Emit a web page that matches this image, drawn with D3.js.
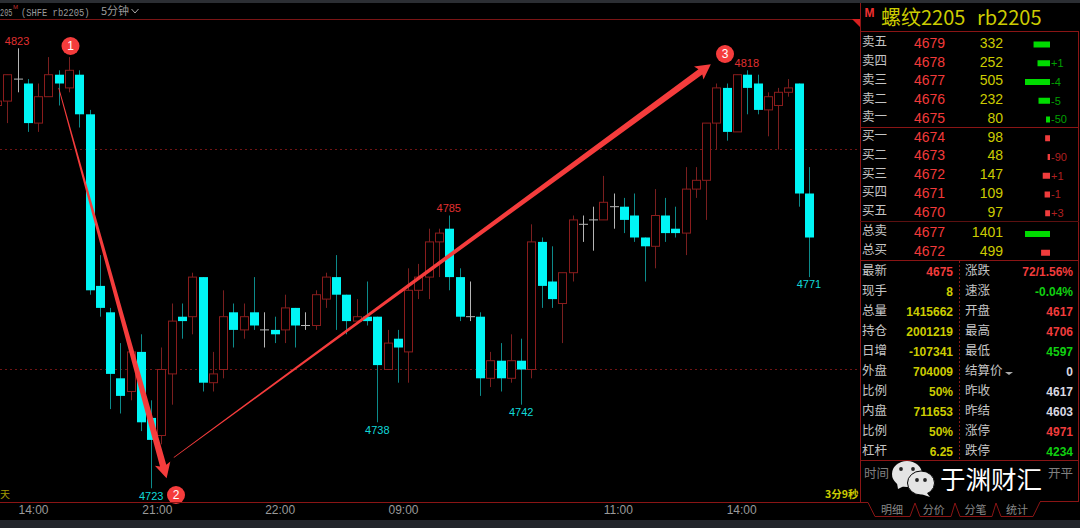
<!DOCTYPE html>
<html><head><meta charset="utf-8">
<script src="https://cdn.jsdelivr.net/npm/d3@7/dist/d3.min.js"></script>
<style>html,body{margin:0;padding:0;background:#000;overflow:hidden}svg{display:block}</style>
</head><body><svg id="c" width="1080" height="528"></svg>
<script>
// candle values: [open, high, low, close], first candle index -1
const opens  = [4810,4811,4816,4815,4806,4812,4817,4814,4817,4808,4769,4763,4748,4745,4754,4739,4735,4749,4762,4762,4771,4747,4750,4763,4759,4763,4759,4759,4759,4764,4760,4760,4766,4771,4767,4761,4762,4762,4750,4757,4754,4768,4771,4779,4782,4771,4762,4762,4748,4752,4748,4752,4750,4779,4770,4765,4772,4783,4784,4784,4787,4787,4785,4780,4778,4785,4782,4781,4791,4793,4806,4814,4804,4817,4815,4809,4810,4813,4815,4790];
const highs  = [4812,4817,4823,4816,4815,4821,4818,4821,4818,4809,4776,4764,4756,4754,4758,4743,4755,4765,4765,4772,4771,4754,4768,4765,4765,4771,4763,4762,4767,4764,4763,4768,4772,4776,4767,4766,4770,4762,4759,4759,4773,4774,4782,4782,4785,4773,4770,4763,4754,4756,4758,4757,4783,4780,4778,4772,4785,4785,4787,4794,4790,4789,4790,4780,4791,4789,4787,4796,4796,4806,4815,4815,4817,4818,4817,4813,4814,4816,4815,4796];
const lows   = [4808,4806,4813,4804,4804,4812,4810,4813,4805,4767,4762,4741,4740,4743,4736,4723,4733,4742,4757,4758,4745,4745,4748,4755,4757,4759,4755,4756,4756,4755,4759,4759,4764,4759,4758,4761,4760,4738,4750,4747,4747,4766,4766,4771,4768,4761,4761,4744,4746,4745,4747,4742,4748,4764,4764,4756,4770,4779,4777,4784,4782,4781,4779,4770,4773,4779,4780,4776,4789,4784,4800,4802,4804,4808,4808,4803,4800,4812,4787,4771];
const closes = [4811,4817,4816,4806,4812,4817,4815,4818,4808,4768,4764,4749,4744,4754,4738,4734,4750,4761,4761,4771,4747,4749,4762,4759,4762,4760,4759,4758,4764,4760,4760,4767,4771,4767,4761,4762,4761,4751,4756,4755,4768,4771,4779,4781,4771,4762,4762,4748,4752,4748,4752,4750,4779,4769,4766,4772,4784,4783,4784,4788,4787,4784,4780,4778,4785,4781,4781,4791,4793,4806,4814,4804,4817,4814,4809,4812,4813,4814,4790,4780];
const firstIndex = -1;
const gridPrices = [4800,4750];
const tickIndex  = [2.5,14.55,26.5,38.5,59.4,71.4];
const tickLabels = ["14:00","21:00","22:00","09:00","11:00","14:00"];
const extremes = [[1,4823,"4823","up"],[14,4723,"4723","dn"],[36,4738,"4738","dn"],[43,4785,"4785","up"],[50,4742,"4742","dn"],[72,4818,"4818","up"],[78,4771,"4771","dn"]];
const askLabels=["卖五","卖四","卖三","卖二","卖一"], askPrices=[4679,4678,4677,4676,4675], askVols=[332,252,505,232,80], askChg=["","+1","-4","-5","-50"];
const bidLabels=["买一","买二","买三","买四","买五"], bidPrices=[4674,4673,4672,4671,4670], bidVols=[98,48,147,109,97], bidChg=["","-90","+1","-1","+3"];
const totLabels=["总卖","总买"], totPrices=[4677,4672], totVols=[1401,499];
const leftLabels=["最新","现手","总量","持仓","日增","外盘","比例","内盘","比例","杠杆"];
const leftValues=["4675","8","1415662","2001219","-107341","704009","50%","711653","50%","6.25"];
const rightLabels=["涨跌","速涨","开盘","最高","最低","结算价","昨收","昨结","涨停","跌停"];
const rightValues=["72/1.56%","-0.04%","4617","4706","4597","0","4617","4603","4971","4234"];
const rightKinds=["r","g","r","r","g","w","w","w","r","g"];
const tabs=["明细","分价","分笔","统计"];

const RED="#f23a3a", DKRED="#8a1c1c", CY="#00f6f6", YEL="#cccc00", GR="#00dc00", LBL="#c4c4c4";
const CJK="'Noto Sans CJK SC',sans-serif", NUM="'Liberation Sans',Arial,sans-serif";
const svg=d3.select("#c");
const x=d3.scaleLinear().domain([0,78]).range([7.3,809]);
const y=d3.scaleLinear().domain([4723,4823]).range([488.3,48.3]);

function txt(g,px,py,s,o={}){return g.append("text").attr("x",px).attr("y",py).attr("dy","0.35em").text(s)
  .attr("fill",o.fill||LBL).attr("font-size",o.size||12.5).attr("font-family",o.font||NUM)
  .attr("font-weight",o.weight||null).attr("text-anchor",o.anchor||"start");}

svg.append("rect").attr("width",1080).attr("height",528).attr("fill","#000");
svg.append("rect").attr("width",1080).attr("height",3).attr("fill","#2b2e33");
svg.append("rect").attr("y",520).attr("width",1080).attr("height",8).attr("fill","#23262b");
svg.append("line").attr("x1",0).attr("x2",860).attr("y1",19.5).attr("y2",19.5).attr("stroke","#7a1515");

// grid
svg.append("g").selectAll("line").data(gridPrices).join("line")
 .attr("x1",0).attr("x2",860).attr("y1",d=>Math.round(y(d))-.5).attr("y2",d=>Math.round(y(d))-.5)
 .attr("stroke","#701515").attr("stroke-dasharray","2,3");

// candles
const candles=opens.map((o,i)=>({i:i+firstIndex,o,h:highs[i],l:lows[i],c:closes[i]}));
const bw=8;
const cg=svg.append("g");
candles.forEach(d=>{
  const kind=d.c>d.o?"up":d.c<d.o?"dn":"doji";
  const X=Math.round(x(d.i))+.5;
  const wick=kind==="up"?"#7a1f1f":kind==="dn"?"#0c8a8a":"#b5b5b5";
  cg.append("line").attr("x1",X).attr("x2",X).attr("y1",y(d.h)).attr("y2",y(d.l)).attr("stroke",wick);
  if(kind==="doji"){cg.append("line").attr("x1",X-4.5).attr("x2",X+4.5).attr("y1",y(d.c)).attr("y2",y(d.c)).attr("stroke",wick);return;}
  const top=y(Math.max(d.o,d.c)),bot=y(Math.min(d.o,d.c));
  if(kind==="up") cg.append("rect").attr("x",X-bw/2).attr("y",top).attr("width",bw).attr("height",bot-top).attr("fill","#000").attr("stroke",DKRED).attr("stroke-width",1);
  else cg.append("rect").attr("x",X-bw/2-.5).attr("y",top).attr("width",bw+1).attr("height",bot-top).attr("fill",CY);
});

// extreme labels
extremes.forEach(([i,p,s,k])=>txt(svg,x(i)+(k==="up"?-.5:0),y(p)+(k==="up"?-7:7.5),s,{anchor:"middle",fill:k==="up"?"#e03030":"#10d8d8",size:11}));

// arrows
function arrow(i0,p0,i1,p1,w0,w1,hw,hl){
  const a=[x(i0),y(p0)],b=[x(i1),y(p1)];
  const dx=b[0]-a[0],dy=b[1]-a[1],L=Math.hypot(dx,dy),u=[dx/L,dy/L],n=[-u[1],u[0]];
  const pt=(t,off)=>[a[0]+u[0]*t+n[0]*off,a[1]+u[1]*t+n[1]*off];
  const pts=[pt(0,w0/2),pt(L-hl,w1/2),pt(L-hl-2,hw),b,pt(L-hl-2,-hw),pt(L-hl,-w1/2),pt(0,-w0/2)];
  svg.append("path").attr("d",d3.line()(pts)+"Z").attr("fill","#f53c3c");
}
arrow(5,4814,15.5,4725.3,.8,6.5,8,13);
arrow(16.2,4730,68.45,4819.4,.8,6.5,8,13);

// markers
[[70.5,46,"1"],[176,495,"2"],[725,54,"3"]].forEach(([cx,cy,s])=>{
  svg.append("circle").attr("cx",cx).attr("cy",cy).attr("r",9).attr("fill","#f53c3c");
  txt(svg,cx,cy,s,{anchor:"middle",fill:"#fff",size:12});
});

// axis
const ax=svg.append("g").attr("transform","translate(0,502)").call(d3.axisBottom(x).tickValues(tickIndex).tickFormat((d,i)=>tickLabels[i]).tickSize(0).tickPadding(3));
ax.select(".domain").remove();
ax.selectAll("text").attr("fill","#9a9a9a").attr("font-size",12).attr("font-family",NUM);

// title
const MONO="'Liberation Mono',monospace";
txt(svg,0,0,"205",{font:MONO,fill:"#9a9a9a",size:11.5}).attr("transform","translate(0,11.5) scale(.6,1)");
txt(svg,13,6.5,"M",{font:NUM,fill:"#c03030",size:6});
txt(svg,0,0,"(SHFE rb2205)",{font:MONO,fill:"#9a9a9a",size:11.5}).attr("transform","translate(21,11.5) scale(.765,1)");
txt(svg,101,11,"5分钟",{font:CJK,fill:"#9a9a9a",size:11});
svg.append("path").attr("d","M131.5,9l3.5,4l3.5,-4").attr("fill","none").attr("stroke","#aaa");
txt(svg,0,494,"天",{font:CJK,fill:"#a09a00",size:10});
txt(svg,825,494,"3分9秒",{font:CJK,fill:"#cccc00",size:10.5,weight:"bold"});

// panel frame
const fr="#8a1515";
const P=svg.append("g");
const hl=(a,b,yy,c=fr)=>P.append("line").attr("x1",a).attr("x2",b).attr("y1",yy).attr("y2",yy).attr("stroke",c);
const vl=(xx,a,b,c=fr)=>P.append("line").attr("x1",xx).attr("x2",xx).attr("y1",a).attr("y2",b).attr("stroke",c);
vl(860.5,3,502);vl(1078.5,31,502);
hl(860,1079,31.5);hl(860,1079,127.5);hl(860,1079,221.5,"#5c1010");hl(860,1079,260.5);hl(860,1079,460.5);
vl(959.5,261,460).attr("stroke-dasharray","2,2");
P.append("path").attr("d","M852,19h8v8z").attr("fill","#d82020");
txt(P,864.5,13,"M",{fill:"#f03030",size:12,weight:"bold"});
txt(P,881,18,"螺纹2205",{font:CJK,fill:YEL,size:20});
txt(P,977,18,"rb2205",{font:CJK,fill:YEL,size:20});

const rowY=i=>43+i*18.75;
const vs=d3.scaleLinear().domain([0,505]).range([0,25]);
const ts=d3.scaleLinear().domain([0,1401]).range([0,25]);
function book(labels,prices,vols,chg,start,col){
  labels.forEach((l,i)=>{
    const yy=rowY(start+i);
    txt(P,862,yy-1,l,{font:CJK,size:12.5});
    txt(P,914,yy,prices[i],{fill:RED,size:14});
    txt(P,1003,yy,vols[i],{fill:YEL,size:14,anchor:"end"});
    P.append("rect").attr("x",1050-vs(vols[i])).attr("y",yy-1.5).attr("width",vs(vols[i])).attr("height",6).attr("fill",col);
    if(chg[i]) txt(P,1051,yy+1.5,chg[i],{fill:col==GR?"#00a000":"#b02020",size:11});
  });
}
book(askLabels,askPrices,askVols,askChg,0,GR);
book(bidLabels,bidPrices,bidVols,bidChg,5,"#f03c3c");
totLabels.forEach((l,i)=>{
  const yy=232+i*18.75;
  txt(P,862,yy-1,l,{font:CJK,size:12.5});
  txt(P,914,yy,totPrices[i],{fill:RED,size:14});
  txt(P,1003,yy,totVols[i],{fill:YEL,size:14,anchor:"end"});
  P.append("rect").attr("x",1050-ts(totVols[i])).attr("y",yy-1).attr("width",ts(totVols[i])).attr("height",6).attr("fill",i?"#f03c3c":GR);
});
const kc={r:"#f03c3c",g:"#10d010",w:"#d8d8e0"};
leftLabels.forEach((l,i)=>{
  const yy=271+i*20;
  txt(P,862,yy,l,{font:CJK,size:12.5});
  txt(P,953,yy+.5,leftValues[i],{fill:i==0?"#f03c3c":YEL,size:12,weight:"bold",anchor:"end"});
  txt(P,965,yy,rightLabels[i],{font:CJK,size:12.5});
  txt(P,1073,yy+.5,rightValues[i],{fill:kc[rightKinds[i]],size:12,weight:"bold",anchor:"end"});
});
P.append("path").attr("d","M1005,372h8l-4,3z").attr("fill","#aaa");
txt(P,864,474,"时间",{font:CJK,fill:"#808080",size:12.5});
txt(P,1048,474,"开平",{font:CJK,fill:"#808080",size:12.5});

// watermark
P.append("ellipse").attr("cx",907).attr("cy",474).attr("rx",15).attr("ry",13).attr("fill","#e4e4e4");
P.append("path").attr("d","M897,483l1,6l8,-4z").attr("fill","#e4e4e4");
P.append("ellipse").attr("cx",921).attr("cy",483).attr("rx",13.5).attr("ry",12).attr("fill","#e4e4e4").attr("stroke","#000");
P.append("path").attr("d","M926,492l4,5l-9,-3z").attr("fill","#e4e4e4");
[[901,469],[913,469],[917,480],[925,480]].forEach(([a,b])=>P.append("circle").attr("cx",a).attr("cy",b).attr("r",1.9).attr("fill","#222"));
txt(P,940,480.5,"于渊财汇",{font:CJK,fill:"#fff",size:25.5});

// tabs
P.append("path").attr("d","M0,502.5H868L875,516.5H910L915,503L920,516.5H951L955,503L960,516.5H992L996,503L1001,516.5H1033L1040,502").attr("fill","none").attr("stroke",fr);
hl(1040,1079,501.5);
tabs.forEach((t,i)=>txt(P,892+i*41.7,510,t,{font:CJK,fill:"#888",size:11,anchor:"middle"}));
</script></body></html>
